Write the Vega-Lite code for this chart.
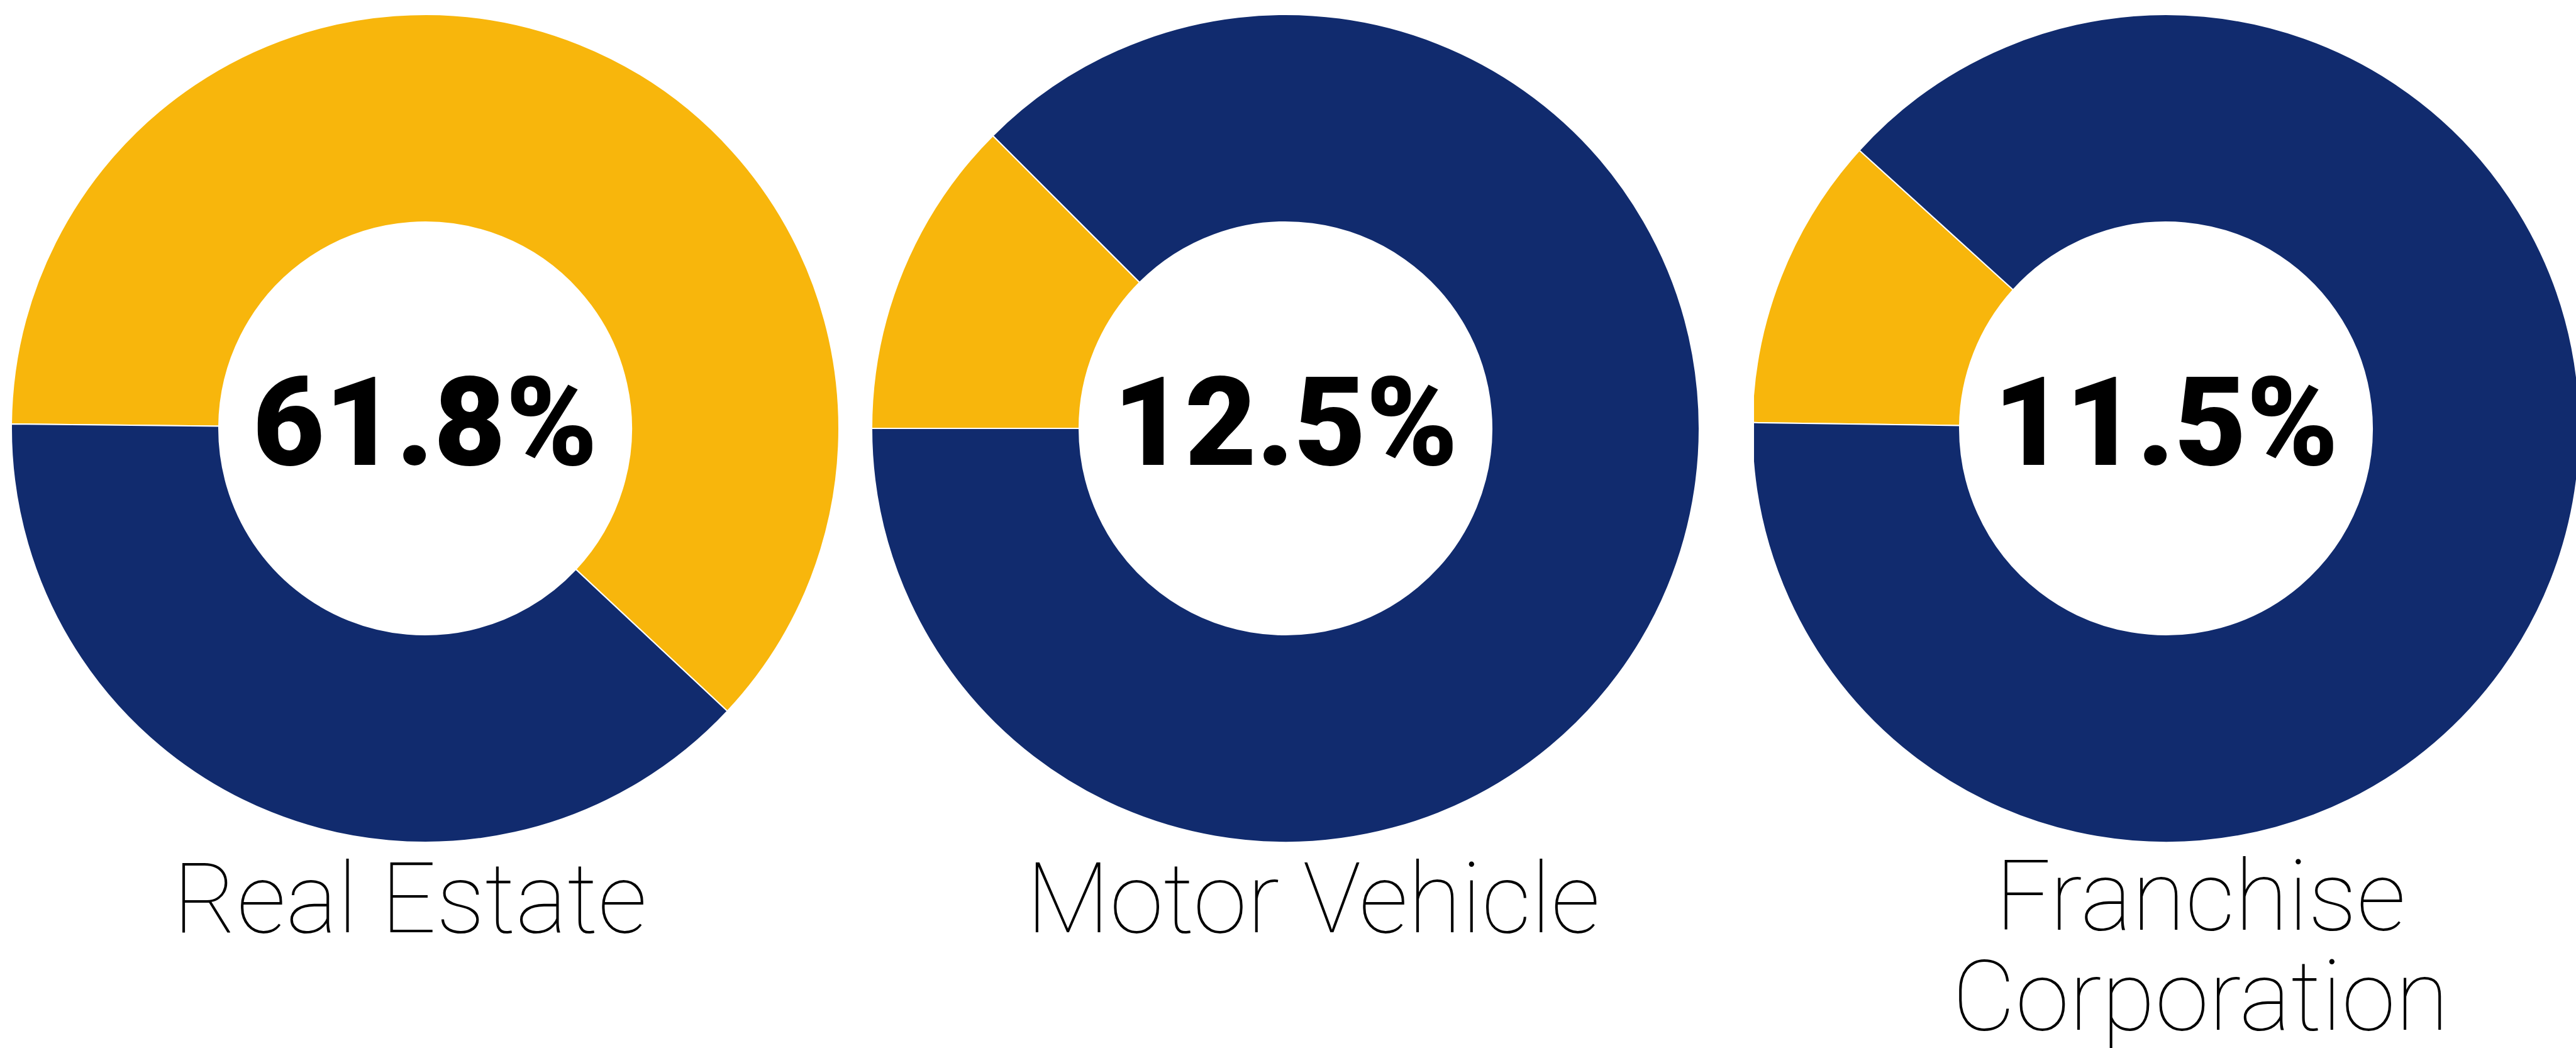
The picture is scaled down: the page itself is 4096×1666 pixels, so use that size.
{
  "$schema": "https://vega.github.io/schema/vega-lite/v6.json",
  "background": "white",
  "padding": {"left": 14, "top": 19, "right": 0, "bottom": 0},
  "spacing": 0,
  "bounds": "flush",
  "config": {"view": {"stroke": null}},
  "datasets": {
    "shares": [
      {"category": "Real Estate", "segment": "Share", "value": 61.8, "label": "61.8%"},
      {"category": "Real Estate", "segment": "Other", "value": 38.2, "label": ""},
      {"category": "Motor Vehicle", "segment": "Share", "value": 12.5, "label": "12.5%"},
      {"category": "Motor Vehicle", "segment": "Other", "value": 87.5, "label": ""},
      {"category": "Franchise Corporation", "segment": "Share", "value": 11.5, "label": "11.5%"},
      {"category": "Franchise Corporation", "segment": "Other", "value": 88.5, "label": ""}
    ]
  },
  "hconcat": [
    {
      "width": 1246,
      "height": 1316,
      "data": {"name": "shares"},
      "transform": [{"filter": "datum.category === 'Real Estate'"}],
      "title": {"text": "Real Estate", "orient": "bottom", "anchor": "middle", "frame": "group", "font": "Roboto", "fontWeight": 100, "fontSize": 155, "color": "black", "baseline": "alphabetic", "offset": 139, "dx": -24},
      "layer": [
        {
          "mark": {"type": "arc", "outerRadius": 658, "innerRadius": 328, "stroke": "white", "strokeWidth": 2},
          "encoding": {
            "theta": {"field": "value", "type": "quantitative", "stack": true, "scale": {"domain": [0, 100], "range": [-1.5603, 4.7229]}},
            "color": {"field": "segment", "type": "nominal", "scale": {"domain": ["Share", "Other"], "range": ["#F8B60C", "#112B6E"]}, "legend": null},
            "order": {"field": "segment", "sort": "descending"}
          }
        },
        {
          "transform": [{"filter": "datum.segment === 'Share'"}],
          "mark": {"type": "text", "font": "Roboto", "fontWeight": 900, "fontSize": 197, "baseline": "alphabetic", "align": "center", "dy": 58, "color": "black"},
          "encoding": {"text": {"field": "label", "type": "nominal"}}
        }
      ]
    },
    {
      "width": 1490,
      "height": 1316,
      "data": {"name": "shares"},
      "transform": [{"filter": "datum.category === 'Motor Vehicle'"}],
      "title": {"text": "Motor Vehicle", "orient": "bottom", "anchor": "middle", "frame": "group", "font": "Roboto", "fontWeight": 100, "fontSize": 155, "color": "black", "baseline": "alphabetic", "offset": 139, "dx": 44},
      "layer": [
        {
          "mark": {"type": "arc", "outerRadius": 658, "innerRadius": 328, "stroke": "white", "strokeWidth": 2},
          "encoding": {
            "theta": {"field": "value", "type": "quantitative", "stack": true, "scale": {"domain": [0, 100], "range": [-1.5708, 4.7124]}},
            "color": {"field": "segment", "type": "nominal", "scale": {"domain": ["Share", "Other"], "range": ["#F8B60C", "#112B6E"]}, "legend": null},
            "order": {"field": "segment", "sort": "descending"}
          }
        },
        {
          "transform": [{"filter": "datum.segment === 'Share'"}],
          "mark": {"type": "text", "font": "Roboto", "fontWeight": 900, "fontSize": 197, "baseline": "alphabetic", "align": "center", "dy": 58, "color": "black"},
          "encoding": {"text": {"field": "label", "type": "nominal"}}
        }
      ]
    },
    {
      "width": 1310,
      "height": 1316,
      "data": {"name": "shares"},
      "transform": [{"filter": "datum.category === 'Franchise Corporation'"}],
      "title": {"text": ["Franchise", "Corporation"], "orient": "bottom", "anchor": "middle", "frame": "group", "font": "Roboto", "fontWeight": 100, "fontSize": 155, "lineHeight": 159, "color": "black", "baseline": "alphabetic", "offset": 139, "dx": 55},
      "layer": [
        {
          "mark": {"type": "arc", "outerRadius": 658, "innerRadius": 328, "stroke": "white", "strokeWidth": 2, "clip": true},
          "encoding": {
            "theta": {"field": "value", "type": "quantitative", "stack": true, "scale": {"domain": [0, 100], "range": [-1.5568, 4.7264]}},
            "color": {"field": "segment", "type": "nominal", "scale": {"domain": ["Share", "Other"], "range": ["#F8B60C", "#112B6E"]}, "legend": null},
            "order": {"field": "segment", "sort": "descending"}
          }
        },
        {
          "transform": [{"filter": "datum.segment === 'Share'"}],
          "mark": {"type": "text", "font": "Roboto", "fontWeight": 900, "fontSize": 197, "baseline": "alphabetic", "align": "center", "dy": 58, "color": "black"},
          "encoding": {"text": {"field": "label", "type": "nominal"}}
        }
      ]
    }
  ]
}
